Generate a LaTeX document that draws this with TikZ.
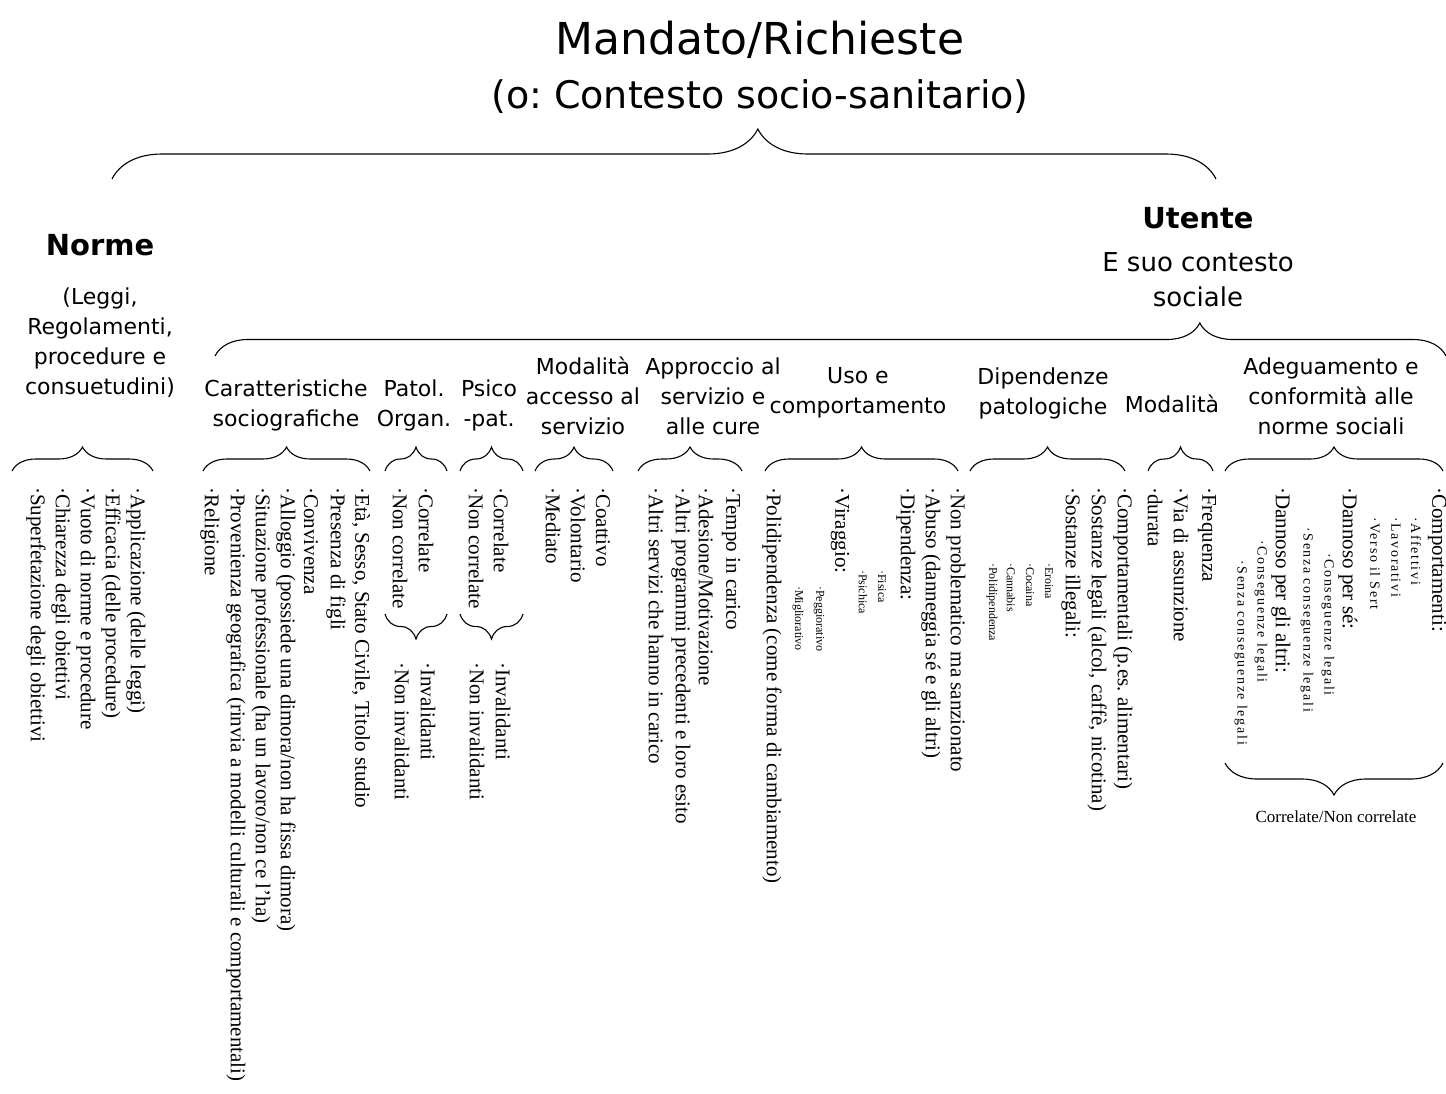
\documentclass[tikz,border=0pt]{standalone}
\usepackage{fontspec}
\setmainfont{Liberation Serif}
\setsansfont{DejaVu Sans}
\newfontfamily\spacedserif[LetterSpace=12]{Liberation Serif}
\usetikzlibrary{decorations.pathreplacing}
\frenchspacing

\begin{document}
\begin{tikzpicture}[x=1pt, y=1pt,
  brc/.style={decorate, decoration={brace, amplitude=#1}, line width=1.1pt},
  brc/.default=24,
  ttl/.style={font=\sffamily\fontsize{44}{48}\selectfont, inner sep=0pt},
  head/.style={font=\sffamily\fontsize{22}{30}\selectfont, align=center, inner sep=0pt},
  itm/.style={font=\fontsize{21}{21}\selectfont, rotate=-90, anchor=west, inner sep=0pt},
  sub/.style={font=\fontsize{12}{12}\selectfont, rotate=-90, anchor=west, inner sep=0pt},
  subw/.style={font=\spacedserif\fontsize{14}{14}\selectfont, rotate=-90, anchor=west, inner sep=0pt}
]
\useasboundingbox (0,0) rectangle (1446,-1093);

% Titolo
\node[ttl] (mandato) at (760,-40) {Mandato/Richieste};
\node[ttl, font=\sffamily\fontsize{38}{40}\selectfont] (contesto) at (760,-97)
  {(o: Contesto socio-sanitario)};
\draw[brc=50, decoration={aspect=0.585}] (112,-179) -- (1216,-179);

% Norme e Utente
\node[font=\sffamily\bfseries\fontsize{29}{32}\selectfont] (norme) at (100,-245) {Norme};
\node[head] (normesub) at (100,-343) {(Leggi,\\Regolamenti,\\procedure e\\consuetudini)};
\node[font=\sffamily\bfseries\fontsize{29}{32}\selectfont] (utente) at (1198,-218) {Utente};
\node[head, font=\sffamily\fontsize{26}{35}\selectfont] (utentesub) at (1198,-280)
  {E suo contesto\\sociale};
\draw[brc=33, decoration={aspect=0.8}] (215,-356) -- (1446,-356);

% Categorie
\node[head] (car) at (286,-405) {Caratteristiche\\sociografiche};
\node[head] (pat) at (414,-405) {Patol.\\Organ.};
\node[head] (psi) at (489,-405) {Psico\\-pat.};
\node[head] (acc) at (583,-396) {Modalità\\accesso al\\servizio};
\node[head] (app) at (713,-396) {Approccio al\\servizio e\\alle cure};
\node[head] (uso) at (858,-393) {Uso e\\comportamento};
\node[head] (dip) at (1043,-393) {Dipendenze\\patologiche};
\node[head] (mod) at (1172,-404) {Modalità};
\node[head] (ade) at (1331,-396) {Adeguamento e\\conformità alle\\norme sociali};

% Graffe piccole
\draw[brc] (12,-471) -- (153,-471);
\draw[brc] (203,-471) -- (370,-471);
\draw[brc] (385,-471) -- (447,-471);
\draw[brc] (460,-471) -- (523,-471);
\draw[brc] (535,-471) -- (613,-471);
\draw[brc] (638,-471) -- (742,-471);
\draw[brc] (765,-471) -- (958,-471);
\draw[brc] (970,-471) -- (1125,-471);
\draw[brc] (1148,-471) -- (1213,-471);
\draw[brc] (1225,-471) -- (1443,-471);
\draw[brc=25] (447,-614) -- (385,-614);
\draw[brc=25] (523,-614) -- (460,-614);
\draw[brc=32] (1443,-763) -- (1225,-763);

% Voci
\foreach \x/\t [count=\i] in {136/{·Applicazione (delle leggi)}, 111/{·Efficacia (delle procedure)},
  86/{·Vuoto di norme e procedure}, 61/{·Chiarezza degli obiettivi},
  36/{·Superfetazione degli obiettivi}}
  \node[itm] (nor\i) at (\x,-487) {\t};
\foreach \x/\t [count=\i] in {361/{·Età, Sesso, Stato Civile, Titolo studio}, 336/{·Presenza di figli},
  311/{·Convivenza}, 286/{·Alloggio (possiede una dimora/non ha fissa dimora)},
  261/{·Situazione professionale (ha un lavoro/non ce l'ha)},
  236/{·Provenienza geografica (rinvia a modelli culturali e comportamentali)},
  210/{·Religione}}
  \node[itm] (car\i) at (\x,-487) {\t};
\node[itm] (pat1) at (426,-487) {·Correlate};
\node[itm] (pat2) at (400,-487) {·Non correlate};
\node[itm] (pat3) at (428,-662) {·Invalidanti};
\node[itm] (pat4) at (402,-662) {·Non invalidanti};
\node[itm] (psi1) at (501,-487) {·Correlate};
\node[itm] (psi2) at (476,-487) {·Non correlate};
\node[itm] (psi3) at (503,-662) {·Invalidanti};
\node[itm] (psi4) at (477,-662) {·Non invalidanti};
\foreach \x/\t [count=\i] in {603/{·Coattivo}, 578/{·Volontario}, 553/{·Mediato}}
  \node[itm] (acc\i) at (\x,-487) {\t};
\foreach \x/\t [count=\i] in {731/{·Tempo in carico}, 706/{·Adesione/Motivazione},
  681/{·Altri programmi precedenti e loro esito}, 656/{·Altri servizi che hanno in carico}}
  \node[itm] (app\i) at (\x,-487) {\t};
\foreach \x/\t [count=\i] in {956/{·Non problematico ma sanzionato},
  931/{·Abuso (danneggia sé e gli altri)}, 906/{·Dipendenza:}, 840/{·Viraggio:},
  772/{·Polidipendenza (come forma di cambiamento)}}
  \node[itm] (uso\i) at (\x,-487) {\t};
\node[sub] (uso6) at (882,-570) {·Fisica};
\node[sub] (uso7) at (863,-570) {·Psichica};
\node[sub] (uso8) at (819,-586) {·Peggiorativo};
\node[sub] (uso9) at (798,-586) {·Migliorativo};
\foreach \x/\t [count=\i] in {1123/{·Comportamentali (p.es. alimentari)},
  1097/{·Sostanze legali (alcol, caffè, nicotina)}, 1071/{·Sostanze illegali:}}
  \node[itm] (dip\i) at (\x,-487) {\t};
\foreach \x/\t [count=\i] in {1049/{·Eroina}, 1030/{·Cocaina}, 1011/{·Cannabis}, 992/{·Polidipendenza}}
  \node[sub] (dips\i) at (\x,-563) {\t};
\foreach \x/\t [count=\i] in {1207/{·Frequenza}, 1181/{·Via di assunzione}, 1155/{·durata}}
  \node[itm] (mod\i) at (\x,-487) {\t};
\foreach \x/\t [count=\i] in {1437/{·Comportamenti:}, 1348/{·Dannoso per sé:}, 1281/{·Dannoso per gli altri:}}
  \node[itm] (ade\i) at (\x,-487) {\t};
\node[subw] (ades1) at (1416,-517) {·Affettivi};
\node[subw] (ades2) at (1396,-517) {·Lavorativi};
\node[subw] (ades3) at (1375,-517) {·Verso il Sert};
\node[subw] (ades4) at (1328,-553) {·Conseguenze legali};
\node[subw] (ades5) at (1307,-527) {·Senza conseguenze legali};
\node[subw] (ades6) at (1261,-540) {·Conseguenze legali};
\node[subw] (ades7) at (1241,-560) {·Senza conseguenze legali};
\node[font=\fontsize{17}{17}\selectfont] (corr) at (1336,-817) {Correlate/Non correlate};
\end{tikzpicture}
\end{document}
